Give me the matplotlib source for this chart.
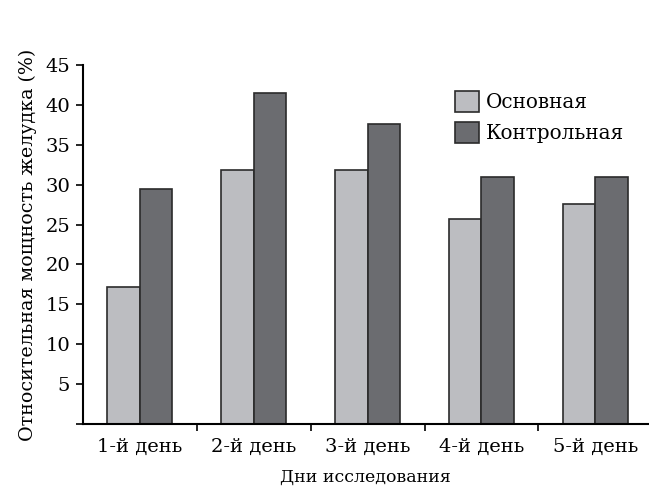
import numpy as np
import matplotlib
matplotlib.use("Agg")
import matplotlib.pyplot as plt

days = ["1-й день", "2-й день", "3-й день", "4-й день", "5-й день"]
main_group = [17.2, 31.8, 31.8, 25.7, 27.6]
control_group = [29.4, 41.5, 37.6, 31.0, 30.9]

plt.rcParams["font.family"] = ["DejaVu Serif"]
plt.rcParams["font.size"] = 12

fig = plt.figure(figsize=(6.49, 4.88), dpi=100)
ax = fig.add_axes([0.1274, 0.1311, 0.8726, 0.7357])

x = np.arange(len(days))
w = 0.287
ax.bar(x - w / 2, main_group, w, color="#bcbdc1", edgecolor="#2b2b2b", linewidth=1.2, label="Основная")
ax.bar(x + w / 2, control_group, w, color="#6b6c70", edgecolor="#2b2b2b", linewidth=1.2, label="Контрольная")

ax.set_xlim(-0.5, 4.47)
ax.set_ylim(0, 45)
ax.set_yticks(np.arange(0, 46, 5))
ax.set_yticklabels([""] + [str(v) for v in range(5, 46, 5)], fontsize=14)
ax.set_xticks(x)
ax.set_xticklabels(days, fontsize=14)
ax.set_xticks(np.arange(0.5, 4, 1), minor=True)
ax.tick_params(axis="x", which="major", length=0, pad=10)
ax.tick_params(axis="x", which="minor", length=5, width=1.2, direction="out")
ax.tick_params(axis="y", length=5, width=1.2, pad=4)

for s in ["top", "right"]:
    ax.spines[s].set_visible(False)
for s in ["left", "bottom"]:
    ax.spines[s].set_linewidth(1.5)

ax.set_ylabel("Относительная мощность желудка (%)", fontsize=13.7, labelpad=6)
ax.set_xlabel("Дни исследования", fontsize=12.5, labelpad=9)

ax.legend(loc="upper left", bbox_to_anchor=(0.64, 0.955), frameon=False,
          handlelength=1.2, handleheight=1.2, handletextpad=0.35,
          labelspacing=0.5, borderpad=0, fontsize=14.4)

fig.savefig("out.png", dpi=100)
